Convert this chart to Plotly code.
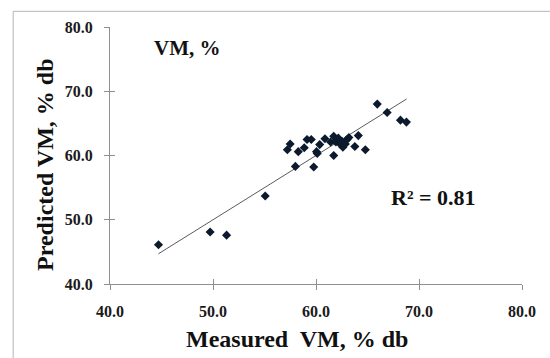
import plotly.graph_objects as go

# Data
measured = [44.71, 49.72, 51.32, 55.07, 57.22, 57.49, 58.28, 58.00, 58.86, 59.13,
            59.54, 59.78, 60.05, 60.12, 60.36, 60.87, 61.42, 61.72, 61.72, 61.93,
            62.17, 62.34, 62.51, 62.61, 62.85, 63.02, 63.19, 63.77, 64.11, 64.79,
            65.95, 66.91, 68.20, 68.78]
predicted = [46.1, 48.1, 47.6, 53.7, 60.9, 61.8, 60.6, 58.3, 61.2, 62.5,
             62.5, 58.2, 60.6, 60.3, 61.7, 62.6, 62.1, 63.0, 60.0, 62.1,
             62.7, 61.8, 62.2, 61.3, 61.8, 62.5, 62.8, 61.4, 63.1, 60.9,
             68.0, 66.7, 65.5, 65.2]
trend_x = [44.7, 68.8]
trend_y = [44.7, 68.8]
tick_vals = [40, 50, 60, 70, 80]
tick_text = ["40.0", "50.0", "60.0", "70.0", "80.0"]

FONT = "Liberation Serif"
AXIS_COLOR = "#8f8f8f"

fig = go.Figure()
fig.add_trace(go.Scatter(x=trend_x, y=trend_y, mode="lines",
                         line=dict(color="#5a5a5a", width=1), showlegend=False,
                         hoverinfo="skip"))
fig.add_trace(go.Scatter(x=measured, y=predicted, mode="markers",
                         marker=dict(symbol="diamond", size=7, color="#0b1a2c"),
                         showlegend=False))

axis_common = dict(range=[40, 80], tickvals=tick_vals, ticktext=tick_text,
                   showgrid=False, zeroline=False, showline=True,
                   linecolor=AXIS_COLOR, linewidth=1,
                   ticks="outside", ticklen=5, tickcolor=AXIS_COLOR, tickwidth=1,
                   tickfont=dict(family=FONT, size=16, color="#1a1a1a", weight="bold"),
                   ticklabelstandoff=8)

fig.update_layout(
    width=550, height=358,
    margin=dict(l=110, r=28, t=27, b=74),
    paper_bgcolor="white", plot_bgcolor="white",
    xaxis=axis_common,
    yaxis=axis_common,
    xaxis2=dict(range=[40, 80], tickvals=tick_vals, overlaying="x", showticklabels=False,
                showgrid=False, zeroline=False, showline=False,
                ticks="inside", ticklen=5, tickcolor=AXIS_COLOR, tickwidth=1),
    yaxis2=dict(range=[40, 80], tickvals=tick_vals, overlaying="y", showticklabels=False,
                showgrid=False, zeroline=False, showline=False,
                ticks="inside", ticklen=5, tickcolor=AXIS_COLOR, tickwidth=1),
    shapes=[dict(type="rect", xref="paper", yref="paper",
                 x0=-0.235, x1=1.2, y0=-0.6, y1=1.061,
                 line=dict(color="#b5b5b5", width=1), layer="below")],
    annotations=[
        dict(text="VM, %", xref="paper", yref="paper", x=0.102, y=0.918,
             xanchor="left", yanchor="middle", showarrow=False,
             font=dict(family=FONT, size=21, color="#111", weight="bold")),
        dict(text="R² = 0.81", xref="paper", yref="paper", x=0.677, y=0.335,
             xanchor="left", yanchor="middle", showarrow=False,
             font=dict(family=FONT, size=22, color="#111", weight="bold")),
        dict(text="Measured  VM, % db", xref="paper", yref="paper", x=0.4527, y=-0.214,
             xanchor="center", yanchor="middle", showarrow=False,
             font=dict(family=FONT, size=24, color="#111", weight="bold")),
        dict(text="Predicted VM, % db", xref="paper", yref="paper", x=-0.158, y=0.463,
             xanchor="center", yanchor="middle", showarrow=False, textangle=-90,
             font=dict(family=FONT, size=24, color="#111", weight="bold")),
    ],
)
# invisible trace to activate the overlay axes for cross tick marks
fig.add_trace(go.Scatter(x=[40], y=[40], xaxis="x2", yaxis="y2", mode="markers",
                         marker=dict(opacity=0), showlegend=False, hoverinfo="skip"))

fig.write_html("out.html")
